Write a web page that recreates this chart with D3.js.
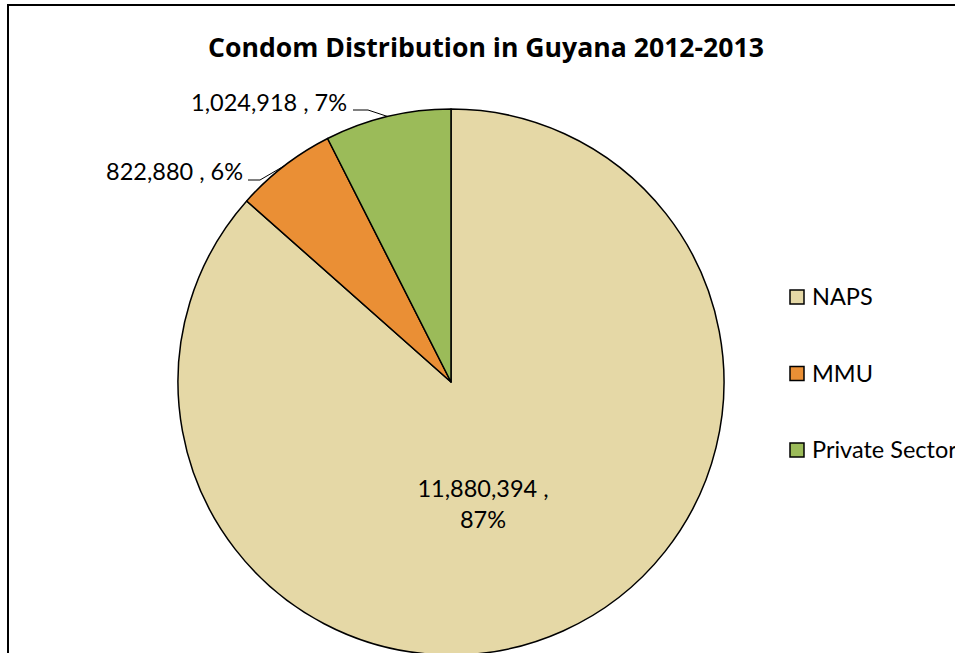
<!DOCTYPE html>
<html>
<head>
<meta charset="utf-8">
<script src="https://cdn.jsdelivr.net/npm/d3@7"></script>
<style>
  body { margin: 0; background: #fff; }
  svg { display: block; font-family: Lato, "Open Sans", sans-serif; }
</style>
</head>
<body>
<svg id="here"></svg>
<script>
const categories = ["NAPS", "MMU", "Private Sector"];
const values = [11880394, 822880, 1024918];
const pctLabels = ["87%", "6%", "7%"];
const colors = ["#E5D8A6", "#EA8F35", "#9BBB59"];
const title = "Condom Distribution in Guyana 2012-2013";

const width = 955, height = 653;
const cx = 451, cy = 382, radius = 273;

const svg = d3.select("#here")
  .attr("width", width)
  .attr("height", height);

// chart frame (right/bottom run off the page like the original)
svg.append("rect")
  .attr("x", 8).attr("y", 5)
  .attr("width", 1100).attr("height", 1100)
  .attr("fill", "#fff")
  .attr("stroke", "#000")
  .attr("stroke-width", 2);

svg.append("text")
  .attr("x", 486).attr("y", 57)
  .attr("text-anchor", "middle")
  .attr("font-family", "'Open Sans', sans-serif")
  .attr("font-weight", "bold")
  .attr("font-size", 26.6)
  .text(title);

const pie = d3.pie().sort(null).value(d => d);
const arcs = pie(values);
const arc = d3.arc().innerRadius(0).outerRadius(radius);

const g = svg.append("g").attr("transform", `translate(${cx},${cy})`);

g.selectAll("path")
  .data(arcs)
  .enter()
  .append("path")
  .attr("d", arc)
  .attr("fill", (d, i) => colors[i])
  .attr("stroke", "#000")
  .attr("stroke-width", 1.5)
  .attr("stroke-linejoin", "round");

const fmt = d3.format(",");
const edge = a => {
  const m = (a.startAngle + a.endAngle) / 2;
  return [radius * Math.sin(m), -radius * Math.cos(m)];
};

// inside label for NAPS
g.append("text")
  .attr("text-anchor", "middle")
  .attr("font-size", 23.5)
  .selectAll("tspan")
  .data([[fmt(values[0]) + " ,", 115], [pctLabels[0], 146]])
  .enter()
  .append("tspan")
  .attr("x", 32)
  .attr("y", d => d[1])
  .text(d => d[0]);

// outside labels with leader lines
const outside = [
  {i: 1, elbow: [260, 180], end: 248, tx: 243, ty: 180},
  {i: 2, elbow: [368, 110], end: 353, tx: 347, ty: 111}
];
outside.forEach(o => {
  const p = edge(arcs[o.i]);
  g.append("path")
    .attr("fill", "none")
    .attr("stroke", "#000")
    .attr("stroke-width", 1)
    .attr("d", d3.line()([
      p,
      [o.elbow[0] - cx, o.elbow[1] - cy],
      [o.end - cx, o.elbow[1] - cy]
    ]));
  svg.append("text")
    .attr("x", o.tx).attr("y", o.ty)
    .attr("text-anchor", "end")
    .attr("font-size", 23.5)
    .text(fmt(values[o.i]) + " , " + pctLabels[o.i]);
});

// legend
const legend = svg.append("g").attr("transform", "translate(790,0)");
const ly = d3.scalePoint().domain(categories).range([297, 450]);
const items = legend.selectAll("g")
  .data(categories)
  .enter()
  .append("g")
  .attr("transform", d => `translate(0,${ly(d)})`);
items.append("rect")
  .attr("x", 0).attr("y", -7)
  .attr("width", 14).attr("height", 14)
  .attr("fill", (d, i) => colors[i])
  .attr("stroke", "#000")
  .attr("stroke-width", 1.5);
items.append("text")
  .attr("x", 22).attr("y", 8)
  .attr("font-size", 23.5)
  .text(d => d);
</script>
</body>
</html>
